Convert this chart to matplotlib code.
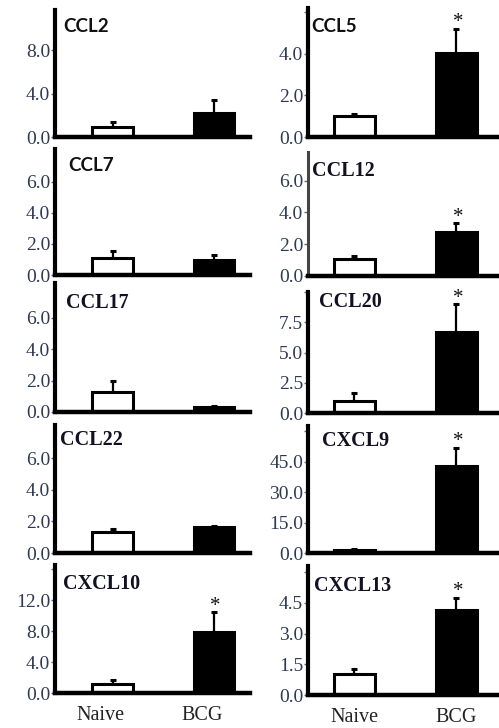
import numpy as np
import matplotlib
matplotlib.use("Agg")
import matplotlib.pyplot as plt
from matplotlib.transforms import ScaledTranslation

# Dữ liệu: mức biểu hiện tương đối (Naive vs BCG)
chemokines = ["CCL2", "CCL5", "CCL7", "CCL12", "CCL17",
              "CCL20", "CCL22", "CXCL9", "CXCL10", "CXCL13"]
groups = ["Naive", "BCG"]
naive_mean = [0.92, 1.03, 1.07, 1.06, 1.25, 1.00, 1.30, 1.6, 1.15, 1.01]
naive_err = [0.46, 0.07, 0.49, 0.21, 0.75, 0.65, 0.25, 0.5, 0.55, 0.26]
bcg_mean = [2.18, 4.03, 0.96, 2.77, 0.30, 6.70, 1.62, 42.7, 7.90, 4.17]
bcg_err = [1.22, 1.17, 0.32, 0.56, 0.05, 2.30, 0.08, 9.0, 2.55, 0.57]
significant = [False, True, False, True, False, True, False, True, True, True]

y_ticks = [[0, 4, 8], [0, 2, 4, 6], [0, 2, 4, 6], [0, 2, 4, 6], [0, 2, 4, 6],
           [0, 2.5, 5, 7.5, 10], [0, 2, 4, 6], [0, 15, 30, 45, 60],
           [0, 4, 8, 12, 16], [0, 1.5, 3, 4.5, 6]]
y_labels = [["0.0", "4.0", "8.0"], ["0.0", "2.0", "4.0", ""],
            ["0.0", "2.0", "4.0", "6.0"], ["0.0", "2.0", "4.0", "6.0"],
            ["0.0", "2.0", "4.0", "6.0"], ["0.0", "2.5", "5.0", "7.5", ""],
            ["0.0", "2.0", "4.0", "6.0"], ["0.0", "15.0", "30.0", "45.0", ""],
            ["0.0", "4.0", "8.0", "12.0", ""], ["0.0", "1.5", "3.0", "4.5", ""]]
y_top = [11.7, 6.2, 8.1, 7.8, 8.2, 10.0, 8.1, 62.5, 16.55, 6.3]

# Bố cục (pixel): đỉnh / đáy trục của từng ô, vị trí tiêu đề
W, H = 499, 728
col_x = [(55, 250), (308, 499)]
col_xlim = [(-0.567, 1.355), (-0.455, 1.417)]
panel_top = [10, 8, 149, 152, 283, 292, 425, 426, 565, 566]
panel_bottom = [137, 137, 275, 276, 412, 413, 553, 553, 693, 695]
title_xy = [(63, 32), (311, 32), (68, 171), (312, 176), (66, 308),
            (319, 307), (60, 445), (322, 446), (63, 589), (314, 591)]
sans_titles = ["CCL2", "CCL5", "CCL7"]

tick_color = "#2e3a52"
serif = "Liberation Serif"

fig = plt.figure(figsize=(W / 100, H / 100), dpi=100)

for i, name in enumerate(chemokines):
    col = i % 2
    x0, x1 = col_x[col]
    top, bot = panel_top[i], panel_bottom[i]
    ax = fig.add_axes([x0 / W, 1 - bot / H, (x1 - x0) / W, (bot - top) / H])
    ax.patch.set_alpha(0)

    xs = np.arange(len(groups))
    means = [naive_mean[i], bcg_mean[i]]
    errs = [naive_err[i], bcg_err[i]]
    ax.bar(xs, means, width=0.4, color=["white", "black"],
           edgecolor="black", linewidth=2.2, zorder=2)
    ax.errorbar(xs, means, yerr=[[0, 0], errs], fmt="none", ecolor="black",
                elinewidth=1.6, capsize=2.5, capthick=2.2, zorder=1)
    if significant[i]:
        ax.annotate("*", xy=(1, bcg_mean[i] + bcg_err[i]), xytext=(1, -2.5),
                    textcoords="offset points", ha="center", va="bottom",
                    fontsize=15, family=serif, color="#111118")

    ax.set_xlim(*col_xlim[col])
    ax.set_ylim(0, y_top[i])
    ax.set_yticks(y_ticks[i])
    ax.set_yticklabels(y_labels[i], family=serif, fontsize=14, color=tick_color)
    ax.tick_params(axis="y", length=3, width=1, color="#666666", pad=0.5)

    for s in ["top", "right"]:
        ax.spines[s].set_visible(False)
    ax.spines["left"].set_linewidth(3.0)
    ax.spines["bottom"].set_linewidth(3.2)
    if name == "CCL12":
        ax.spines["left"].set_color("#444444")
        ax.spines["left"].set_linewidth(2.2)

    if i >= 8:
        ax.set_xticks(xs)
        ax.set_xticklabels(groups, family=serif, fontsize=14.5, color="#222222")
        ax.tick_params(axis="x", length=0, pad=9.5)
        if col == 0:
            shift = ScaledTranslation(-12 / 100, 0, fig.dpi_scale_trans)
            for lab in ax.get_xticklabels():
                lab.set_transform(lab.get_transform() + shift)
    else:
        ax.set_xticks([])

    tx, ty = title_xy[i]
    if name in sans_titles:
        fig.text(tx / W, 1 - ty / H, name, family="Lato", weight="bold",
                 fontsize=13.5, color="#111111", va="baseline")
    else:
        fig.text(tx / W, 1 - ty / H, name, family=serif, weight="bold",
                 fontsize=14.5, color="#111122", va="baseline")

fig.savefig("out.png", dpi=100)
